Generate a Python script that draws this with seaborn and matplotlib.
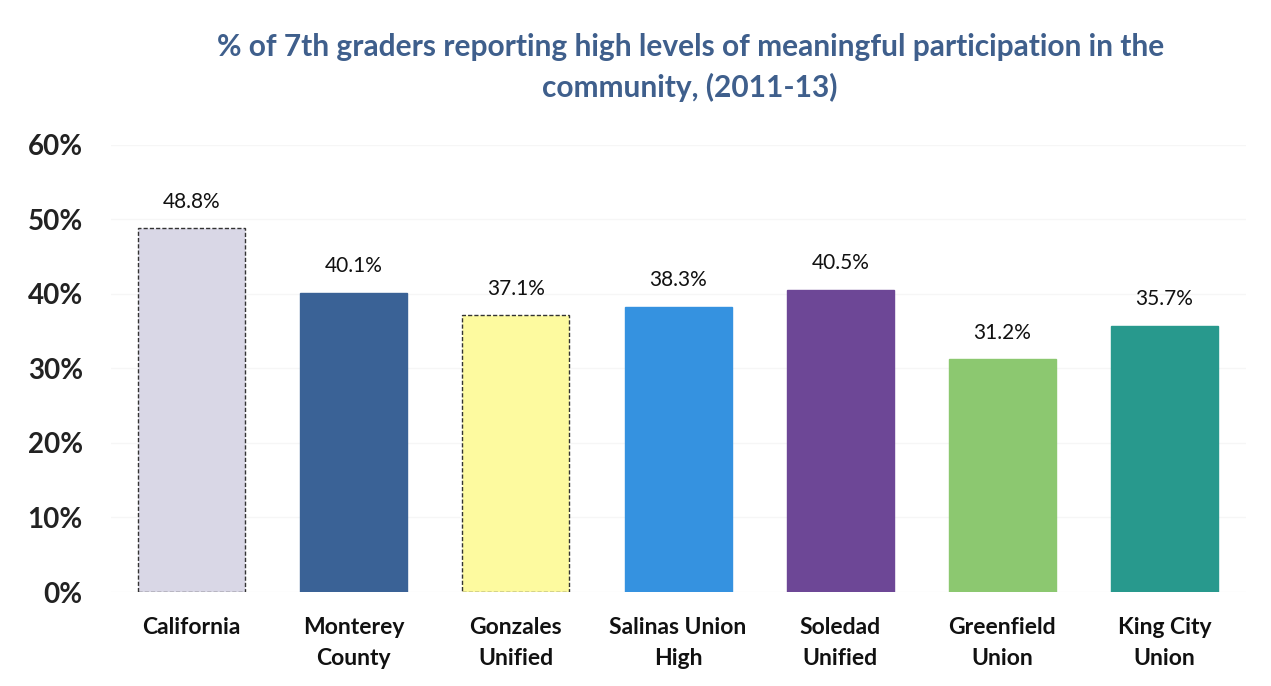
import numpy as np
import pandas as pd
import matplotlib
matplotlib.use('Agg')
import matplotlib.pyplot as plt
import seaborn as sns

categories = ['California', 'Monterey\nCounty', 'Gonzales\nUnified', 'Salinas Union\nHigh',
              'Soledad\nUnified', 'Greenfield\nUnion', 'King City\nUnion']
values = [48.8, 40.1, 37.1, 38.3, 40.5, 31.2, 35.7]
colors = ['#d9d7e6', '#3a6296', '#fdfa9f', '#3592e0', '#6d4796', '#8cc870', '#28998d']
edges = ['#333333', '#3a6296', '#333333', '#3592e0', '#6d4796', '#8cc870', '#28998d']
yticks = [0, 10, 20, 30, 40, 50, 60]
title = '% of 7th graders reporting high levels of meaningful participation in the\ncommunity, (2011-13)'

sns.set_style('white')
plt.rcParams['font.family'] = ['Lato', 'DejaVu Sans']

df = pd.DataFrame({'district': categories, 'pct': values})

fig = plt.figure(figsize=(12.71, 6.86), dpi=100)
ax = fig.add_axes([0.087, 0.137, 0.893, 0.652])

sns.barplot(data=df, x='district', y='pct', hue='district', palette=colors,
            saturation=1, width=0.66, legend=False, ax=ax)

for bar, ec in zip(ax.patches, edges):
    bar.set_edgecolor(ec)
    if ec == '#333333':
        bar.set_linestyle((0, (3, 1.5)))
        bar.set_linewidth(1.0)

for cont in ax.containers:
    ax.bar_label(cont, fmt='%.1f%%', padding=12, fontsize=15, color='#111111')

ax.set_ylim(0, 60)
ax.set_yticks(yticks)
ax.set_yticklabels([f'{t}%' for t in yticks], fontsize=20, fontweight='bold', color='#222222')
ax.tick_params(axis='y', length=0, pad=20)
ax.tick_params(axis='x', length=0, pad=18)
for lbl in ax.get_xticklabels():
    lbl.set_fontsize(16.5)
    lbl.set_fontweight('bold')
    lbl.set_color('#111111')
    lbl.set_linespacing(1.6)
    lbl.set_verticalalignment('top')
ax.set_xlabel('')
ax.set_ylabel('')
ax.yaxis.grid(True, color='#f6f6f6', linewidth=1)
ax.set_axisbelow(True)
for s in ax.spines.values():
    s.set_visible(False)

fig.text(0.543, 0.902, title, ha='center', va='center', fontsize=21.5, fontweight='bold',
         color='#3f5f8c', linespacing=1.5)

fig.savefig('out.png', dpi=100)
